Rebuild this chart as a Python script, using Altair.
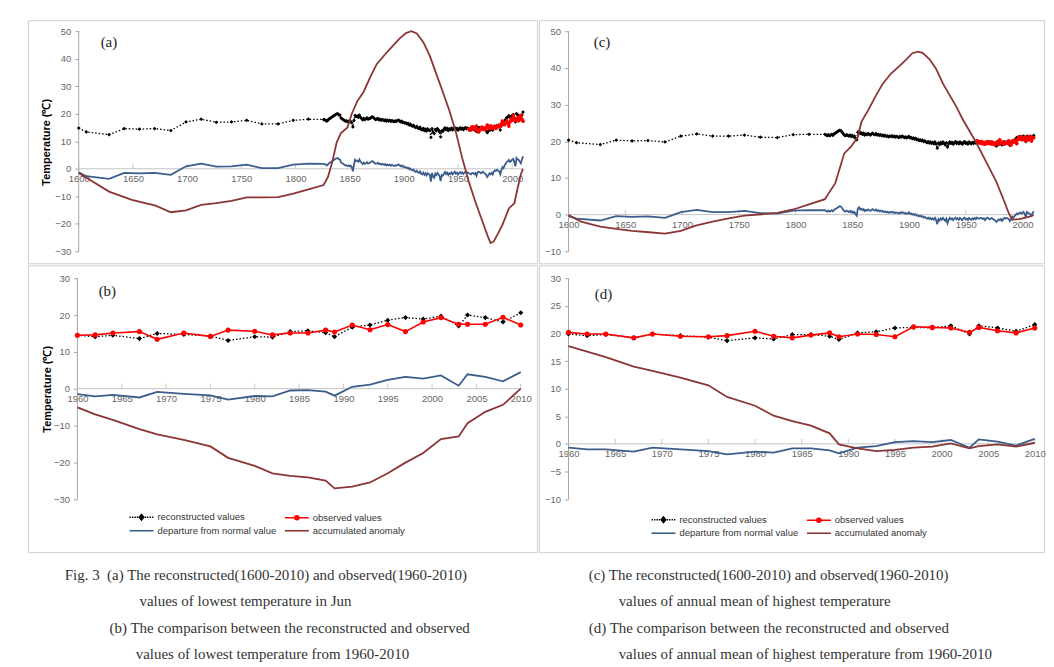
import altair as alt
import pandas as pd

# ---------------- data ----------------
SERIES = ["reconstructed values", "departure from normal value",
          "observed values", "accumulated anomaly"]
COLORS = ["#000000", "#3b5d8c", "#ff0000", "#8b3535"]

SPARSE_YEARS = [1600, 1607, 1628, 1642, 1656, 1670, 1685, 1699, 1713, 1727,
                1741, 1755, 1769, 1784, 1798, 1812]
DENSE_YEARS = list(range(1826, 2011))
OBS_YEARS = list(range(1960, 2011))

# panel (a)
A_RECON_SPARSE = [14.8, 13.4, 12.4, 14.6, 14.4, 14.6, 13.9, 17.0, 18.0, 16.9,
                  17.0, 17.6, 16.3, 16.3, 17.6, 18.0]
A_DEPART_SPARSE = [-1.3, -2.7, -3.7, -1.5, -1.7, -1.5, -2.2, 0.9, 1.9, 0.8,
                   0.9, 1.5, 0.2, 0.2, 1.5, 1.9]
A_RECON_DENSE = [
    17.9, 17.8, 17.6, 17.3,
    17.7, 18.1, 18.4, 18.6, 18.9, 19.2, 19.4, 19.7, 19.9, 20.0,
    19.6, 19.5, 18.5, 18.1, 17.9, 17.6, 17.3, 17.4, 17.1, 17.3,
    17.0, 17.2, 16.7, 15.2, 17.6, 19.4, 18.9, 19.1, 18.7, 19.5,
    18.7, 18.3, 17.8, 18.3, 17.9, 18.1, 18.5, 18.0, 18.2, 18.3,
    18.7, 18.9, 18.6, 18.2, 17.9, 18.0, 18.3, 17.8, 18.0, 17.6,
    17.9, 17.7, 17.5, 17.8, 17.3, 17.6, 17.4, 17.6, 17.2, 17.5,
    17.3, 17.1, 17.4, 17.2, 17.5, 17.7, 17.4, 17.0, 17.3, 16.8,
    16.9, 16.6, 16.7, 16.3, 16.5, 15.9, 16.2, 15.7, 15.5, 15.8,
    15.2, 15.0, 15.4, 14.8, 14.6, 15.1, 14.3, 14.1, 14.7, 13.9,
    14.4, 13.7, 14.5, 14.1, 13.9, 11.4, 14.6, 13.3, 12.8, 14.3,
    13.8, 14.6, 14.1, 13.4, 11.6, 13.8, 13.6, 14.3, 14.9, 14.2,
    14.7, 13.9, 14.5, 14.2, 14.8, 14.1, 14.6, 15.0, 14.3, 14.7,
    14.0, 14.5, 14.9, 14.4, 14.8, 14.2, 14.7, 15.0, 14.5, 14.8,
    14.5, 14.3, 14.1, 14.6, 14.5, 14.1, 14.5, 13.6, 14.8, 15.0,
    14.9, 14.5, 14.7, 15.0, 14.6, 14.3, 13.9, 13.1, 13.7, 14.4,
    14.1, 14.6, 14.0, 15.1, 15.5, 15.3, 15.7, 15.5, 15.2, 14.1,
    15.6, 16.7, 16.3, 17.3, 17.9, 18.6, 18.8, 19.3, 18.6, 18.9,
    19.4, 19.7, 18.5, 17.0, 20.0, 19.6, 19.3, 18.7, 18.1, 19.5,
    20.6]
A_DEPART_DENSE = [
    1.8, 1.7, 1.5, 1.2,
    1.6, 2.0, 2.3, 2.5, 2.8, 3.1, 3.3, 3.6, 3.8, 3.9,
    3.5, 3.4, 2.4, 2.0, 1.8, 1.5, 1.2, 1.3, 1.0, 1.2,
    0.9, 1.1, 0.6, -0.9, 1.5, 3.3, 2.8, 3.0, 2.6, 3.4,
    2.6, 2.2, 1.7, 2.2, 1.8, 2.0, 2.4, 1.9, 2.1, 2.2,
    2.6, 2.8, 2.5, 2.1, 1.8, 1.9, 2.2, 1.7, 1.9, 1.5,
    1.8, 1.6, 1.4, 1.7, 1.2, 1.5, 1.3, 1.5, 1.1, 1.4,
    1.2, 1.0, 1.3, 1.1, 1.4, 1.6, 1.3, 0.9, 1.2, 0.7,
    0.8, 0.5, 0.6, 0.2, 0.4, -0.2, 0.1, -0.4, -0.6, -0.3,
    -0.9, -1.1, -0.7, -1.3, -1.5, -1.0, -1.8, -2.0, -1.4, -2.2,
    -1.7, -2.4, -1.6, -2.0, -2.2, -4.7, -1.5, -2.8, -3.3, -1.8,
    -2.3, -1.5, -2.0, -2.7, -4.5, -2.3, -2.5, -1.8, -1.2, -1.9,
    -1.4, -2.2, -1.6, -1.9, -1.3, -2.0, -1.5, -1.1, -1.8, -1.4,
    -2.1, -1.6, -1.2, -1.7, -1.3, -1.9, -1.4, -1.1, -1.6, -1.3,
    -1.6, -1.8, -2.0, -1.5, -1.6, -2.0, -1.6, -2.5, -1.3, -1.1,
    -1.2, -1.6, -1.4, -1.1, -1.5, -1.8, -2.2, -3.0, -2.4, -1.7,
    -2.0, -1.5, -2.1, -1.0, -0.6, -0.8, -0.4, -0.6, -0.9, -2.0,
    -0.5, 0.6, 0.2, 1.2, 1.8, 2.5, 2.7, 3.2, 2.5, 2.8,
    3.3, 3.6, 2.4, 0.9, 3.9, 3.5, 3.2, 2.6, 2.0, 3.4,
    4.5]
A_OBS = [
    14.5, 14.0, 14.6, 15.2, 15.1, 14.3, 15.0, 15.5, 14.2, 13.4,
    14.0, 14.6, 15.1, 14.4, 14.8, 14.2, 15.0, 15.9, 15.2, 14.6,
    15.6, 15.0, 14.6, 15.4, 15.1, 14.7, 15.1, 15.6, 15.9, 15.4,
    16.2, 17.3, 16.4, 16.0, 16.8, 17.4, 16.5, 15.5, 17.0, 18.1,
    17.6, 19.3, 18.2, 17.5, 17.5, 18.4, 17.5, 18.8, 19.4, 18.0,
    17.3]
A_ACCUM_YEARS = [1600, 1628, 1649, 1671, 1685, 1699, 1713, 1727, 1741, 1755,
                 1769, 1784, 1798, 1812, 1826, 1830, 1834, 1838, 1842, 1848,
                 1852, 1857, 1863, 1869, 1875, 1883, 1889, 1896, 1902, 1907,
                 1912, 1918, 1924, 1930, 1936, 1942, 1948, 1954, 1960, 1966,
                 1972, 1977, 1980, 1983, 1987, 1991, 1997, 2002, 2005, 2008,
                 2010]
A_ACCUM = [-1.5, -8.3, -11.3, -13.4, -15.8, -15.1, -13.1, -12.5, -11.7, -10.4,
           -10.4, -10.3, -9.0, -7.5, -5.9, -3.0, 2.5, 9.5, 13.0, 15.0,
           20.0, 24.5, 28.0, 33.3, 38.0, 41.7, 44.3, 47.3, 49.3, 50.0,
           49.2, 46.0, 41.0, 34.5, 27.9, 21.2, 13.4, 3.7, -4.7, -12.0,
           -18.5, -24.0, -27.0, -26.4, -23.5, -20.4, -14.4, -12.5, -7.1, -2.0,
           0.0]

# panel (c)
C_RECON_SPARSE = [20.3, 19.6, 19.1, 20.3, 20.1, 20.2, 19.8, 21.4, 22.0, 21.4,
                  21.4, 21.7, 21.1, 21.0, 21.8, 21.9]
C_DEPART_SPARSE = [-0.4, -1.1, -1.6, -0.4, -0.6, -0.5, -0.9, 0.7, 1.3, 0.7,
                   0.7, 1.0, 0.4, 0.3, 1.1, 1.2]
C_RECON_DENSE = [
    21.9, 21.7, 21.5, 21.8,
    21.5, 21.7, 21.9, 21.6, 22.0, 22.2, 22.4, 22.6, 22.8, 23.0,
    22.9, 22.5, 22.1, 21.7, 21.5, 21.8, 21.6, 21.4, 21.7, 21.3,
    21.6, 21.2, 21.4, 20.8, 20.4, 22.4, 22.7, 22.1, 22.3, 21.9,
    22.2, 21.7, 22.0, 21.8, 22.1, 21.9, 21.7, 22.0, 22.2, 21.9,
    21.8, 22.1, 21.7, 21.9, 21.6, 21.8, 21.5, 21.7, 21.4, 21.6,
    21.3, 21.5, 21.2, 21.4, 21.3, 21.5, 21.2, 21.4, 21.1, 21.3,
    21.2, 21.0, 21.3, 21.1, 21.4, 21.2, 21.0, 21.2, 20.9, 21.1,
    21.3, 20.9, 21.0, 20.7, 20.9, 20.6, 20.8, 20.4, 20.5, 20.2,
    20.4, 20.1, 20.3, 19.9, 20.1, 19.8, 19.6, 19.9, 19.5, 19.8,
    19.4, 19.7, 19.3, 19.8, 19.2, 18.1, 19.5, 19.1, 19.7, 19.3,
    19.8, 19.4, 19.0, 19.6, 18.4, 19.3, 19.8, 19.4, 19.7, 19.2,
    19.6, 19.9, 19.4, 19.7, 19.3, 19.8, 19.5, 19.2, 19.7, 19.9,
    19.4, 19.6, 19.2, 19.8, 19.5, 19.3, 19.7, 19.4, 19.8, 19.5,
    19.9, 19.6, 19.6, 19.8, 19.8, 19.5, 19.7, 19.2, 19.6, 19.9,
    19.7, 19.4, 19.6, 19.8, 19.5, 19.3, 19.1, 18.7, 19.0, 19.4,
    19.2, 19.5, 19.0, 19.4, 19.8, 19.6, 19.8, 19.7, 19.5, 18.9,
    19.4, 20.1, 19.8, 20.3, 20.6, 21.0, 20.8, 21.1, 21.3, 21.0,
    21.2, 21.4, 20.9, 19.9, 21.4, 21.2, 21.0, 20.8, 20.4, 21.1,
    21.6]
C_DEPART_DENSE = [
    1.2, 1.0, 0.8, 1.1,
    0.8, 1.0, 1.2, 0.9, 1.3, 1.5, 1.7, 1.9, 2.1, 2.3,
    2.2, 1.8, 1.4, 1.0, 0.8, 1.1, 0.9, 0.7, 1.0, 0.6,
    0.9, 0.5, 0.7, 0.1, -0.3, 1.7, 2.0, 1.4, 1.6, 1.2,
    1.5, 1.0, 1.3, 1.1, 1.4, 1.2, 1.0, 1.3, 1.5, 1.2,
    1.1, 1.4, 1.0, 1.2, 0.9, 1.1, 0.8, 1.0, 0.7, 0.9,
    0.6, 0.8, 0.5, 0.7, 0.6, 0.8, 0.5, 0.7, 0.4, 0.6,
    0.5, 0.3, 0.6, 0.4, 0.7, 0.5, 0.3, 0.5, 0.2, 0.4,
    0.6, 0.2, 0.3, 0.0, 0.2, -0.1, 0.1, -0.3, -0.2, -0.5,
    -0.3, -0.6, -0.4, -0.8, -0.6, -0.9, -1.1, -0.8, -1.2, -0.9,
    -1.3, -1.0, -1.4, -0.9, -1.5, -2.6, -1.2, -1.6, -1.0, -1.4,
    -0.9, -1.3, -1.7, -1.1, -2.3, -1.4, -0.9, -1.3, -1.0, -1.5,
    -1.1, -0.8, -1.3, -1.0, -1.4, -0.9, -1.2, -1.5, -1.0, -0.8,
    -1.3, -1.1, -1.5, -0.9, -1.2, -1.4, -1.0, -1.3, -0.9, -1.2,
    -0.8, -1.1, -1.1, -0.9, -0.9, -1.2, -1.0, -1.5, -1.1, -0.8,
    -1.0, -1.3, -1.1, -0.9, -1.2, -1.4, -1.6, -2.0, -1.7, -1.3,
    -1.5, -1.2, -1.7, -1.3, -0.9, -1.1, -0.9, -1.0, -1.2, -1.8,
    -1.3, -0.6, -0.9, -0.4, -0.1, 0.3, 0.1, 0.4, 0.6, 0.3,
    0.5, 0.7, 0.2, -0.8, 0.7, 0.5, 0.3, 0.1, -0.3, 0.4,
    0.9]
C_OBS = [
    20.2, 19.6, 19.9, 19.5, 19.9, 19.3, 19.7, 19.2, 19.6, 19.9,
    19.4, 19.8, 19.5, 19.2, 19.7, 19.4, 19.0, 19.6, 19.9, 19.3,
    20.4, 19.7, 19.5, 19.8, 19.2, 19.5, 19.7, 19.4, 20.1, 19.4,
    19.0, 19.9, 20.2, 19.8, 20.3, 19.4, 20.5, 21.2, 20.6, 21.1,
    20.4, 21.0, 20.8, 20.2, 21.1, 20.4, 20.5, 21.3, 20.1, 20.8,
    21.0]
C_ACCUM_YEARS = [1600, 1611, 1628, 1642, 1656, 1671, 1685, 1699, 1712, 1727,
                 1741, 1755, 1770, 1784, 1798, 1812, 1826, 1830, 1835, 1839,
                 1843, 1849, 1855, 1858, 1864, 1871, 1877, 1884, 1892, 1898,
                 1903, 1908, 1912, 1918, 1924, 1930, 1936, 1942, 1947, 1953,
                 1959, 1965, 1971, 1977, 1983, 1988, 1991, 1997, 2003, 2007,
                 2010]
C_ACCUM = [-0.1, -1.9, -3.3, -3.9, -4.4, -4.8, -5.2, -4.4, -3.0, -1.9,
           -1.0, -0.3, 0.1, 0.5, 1.4, 2.8, 4.2, 6.2, 8.5, 12.6,
           16.7, 18.5, 21.2, 25.2, 28.4, 32.5, 35.7, 38.4, 40.6, 42.4,
           44.0, 44.4, 44.1, 42.4, 39.7, 35.7, 32.5, 29.3, 26.2, 23.0,
           19.8, 16.2, 12.6, 9.0, 4.4, 0.4, -1.4, -1.2, -0.8, -0.5,
           -0.1]

# panels (b) and (d)
BD_YEARS = [1960, 1962, 1964, 1967, 1969, 1972, 1975, 1977, 1980, 1982,
            1984, 1986, 1988, 1989, 1991, 1993, 1995, 1997, 1999, 2001,
            2003, 2004, 2006, 2008, 2010]
B_RECON = [14.5, 14.1, 14.5, 13.6, 15.0, 14.7, 14.3, 13.1, 14.1, 14.0,
           15.5, 15.7, 15.2, 14.1, 16.7, 17.3, 18.6, 19.3, 18.9, 19.7,
           17.0, 20.0, 19.3, 18.1, 20.6]
B_OBS = [14.5, 14.6, 15.1, 15.5, 13.4, 15.1, 14.2, 15.9, 15.6, 14.6,
         15.1, 15.1, 15.9, 15.4, 17.3, 16.0, 17.4, 15.5, 18.1, 19.3,
         17.5, 17.5, 17.5, 19.4, 17.3]
B_DEPART = [-1.5, -2.1, -1.7, -2.4, -0.9, -1.4, -1.8, -3.0, -2.0, -2.1,
            -0.5, -0.4, -0.8, -1.9, 0.5, 1.1, 2.4, 3.2, 2.7, 3.6,
            0.8, 3.9, 3.2, 2.0, 4.5]
B_ACCUM = [-5.1, -7.0, -8.5, -11.0, -12.4, -13.9, -15.7, -18.8, -21.0, -23.0,
           -23.7, -24.1, -25.0, -27.1, -26.6, -25.5, -23.0, -20.1, -17.5, -13.7,
           -13.0, -9.4, -6.3, -4.4, 0.0]
D_RECON = [19.9, 19.6, 19.8, 19.2, 19.9, 19.6, 19.3, 18.7, 19.2, 19.0,
           19.8, 19.8, 19.5, 18.9, 20.1, 20.3, 21.0, 21.1, 21.0, 21.4,
           19.9, 21.4, 21.0, 20.4, 21.6]
D_OBS = [20.2, 19.9, 19.9, 19.2, 19.9, 19.5, 19.4, 19.6, 20.4, 19.5,
         19.2, 19.7, 20.1, 19.4, 19.9, 19.8, 19.4, 21.2, 21.1, 21.0,
         20.2, 21.1, 20.5, 20.1, 21.0]
D_DEPART = [-0.7, -1.0, -1.0, -1.4, -0.7, -1.0, -1.3, -1.9, -1.4, -1.6,
            -0.8, -0.8, -1.2, -1.7, -0.7, -0.4, 0.3, 0.5, 0.3, 0.7,
            -0.7, 0.8, 0.4, -0.3, 0.9]
D_ACCUM = [17.7, 16.7, 15.7, 14.0, 13.2, 12.0, 10.6, 8.5, 6.9, 5.1,
           4.1, 3.3, 1.9, -0.1, -0.8, -1.3, -1.1, -0.7, -0.5, 0.1,
           -0.8, -0.4, -0.1, -0.5, 0.2]

TICKS_LONG = [1600, 1650, 1700, 1750, 1800, 1850, 1900, 1950, 2000]
TICKS_SHORT = [1960, 1965, 1970, 1975, 1980, 1985, 1990, 1995, 2000, 2005, 2010]

ZW = "\u200b"
NB = "\u00a0"
CAPTION_LEFT = [
    "Fig. 3" + NB * 2 + "(a) The reconstructed(1600-2010) and observed(1960-2010)",
    ZW + NB * 20 + "values of lowest temperature in Jun",
    ZW + NB * 12 + "(b) The comparison between the reconstructed and observed",
    ZW + NB * 19 + "values of lowest temperature from 1960-2010",
]
CAPTION_RIGHT = [
    "(c) The reconstructed(1600-2010) and observed(1960-2010)",
    ZW + NB * 8 + "values of annual mean of highest temperature",
    "(d) The comparison between the reconstructed and observed",
    ZW + NB * 8 + "values of annual mean of highest temperature from 1960-2010",
]

# ---------------- styles ----------------
SANS = "Liberation Sans"
SERIF = "Liberation Serif"
AXIS_GRAY = "#a6a6a6"
LABEL_GRAY = "#666666"

_dots = "".join(f"M{x},0h0.28" for x in [-2.4, -1.9, -1.4, -0.95, 0.67, 1.12, 1.62, 2.12])
_line = "M-2.4,0H2.4"
SHAPE_BY_SERIES = {
    "reconstructed values": _dots + "M0,-0.55L0.45,0L0,0.55L-0.45,0Z",
    "observed values": _line + "M-0.4,0A0.4,0.4,0,1,1,0.4,0A0.4,0.4,0,1,1,-0.4,0Z",
    "departure from normal value": _line,
    "accumulated anomaly": _line,
}
LEGEND_PATHS = [SHAPE_BY_SERIES[s] for s in SERIES]


def make_panel(recon, obs, dep, acc, xdom, ydom, xticks, yticks, x_first,
               x_last, y_lo, y_hi, x_off, y_off, w, h, letter, ldx, ldy,
               ytitle=None, mk_recon=16, mk_obs=16, legend_xy=None):
    xs = alt.Scale(domain=xdom, nice=False, zero=False)
    ys = alt.Scale(domain=ydom, nice=False, zero=False)
    xaxis = alt.Axis(values=xticks, format="d", grid=False, domain=False,
                     ticks=False, tickSize=0, labelPadding=5, offset=x_off,
                     labelFlush=False, labelOverlap=False, title=None,
                     labelFont=SANS, labelFontSize=9.5, labelColor=LABEL_GRAY)
    ykw = dict(values=yticks, format="d", grid=False, domain=False,
               ticks=True, tickSize=4, tickColor=AXIS_GRAY, labelPadding=4,
               offset=y_off, labelFlush=False, labelOverlap=False,
               labelFont=SANS, labelFontSize=9.5, labelColor=LABEL_GRAY)
    if ytitle:
        ykw.update(title=ytitle[0], titleX=ytitle[1], titleY=ytitle[2],
                   titleAngle=270, titleBaseline="middle", titleAlign="center",
                   titleFont=SANS, titleFontSize=11, titleFontWeight="bold",
                   titleColor="#000000")
    else:
        ykw.update(title=None)
    yaxis = alt.Axis(**ykw)
    X = alt.X("year:Q", scale=xs, axis=xaxis)
    Y = alt.Y("value:Q", scale=ys, axis=yaxis)

    ax_df = pd.DataFrame({"year": [x_first], "value": [y_lo], "value2": [y_hi]})
    zero_df = pd.DataFrame({"year": [x_first], "year2": [x_last], "value": [0]})
    tick_df = pd.DataFrame({"year": xticks, "value": [0] * len(xticks)})

    layers = [
        alt.Chart(ax_df).mark_rule(color=AXIS_GRAY, strokeWidth=1).encode(x=X, y=Y, y2="value2:Q"),
        alt.Chart(zero_df).mark_rule(color="#c4c4c4", strokeWidth=1).encode(x=X, x2="year2:Q", y=Y),
        alt.Chart(tick_df).mark_tick(orient="vertical", size=5, thickness=1,
                                     color="#b0b0b0", yOffset=-2.5).encode(x=X, y=Y),
        alt.Chart(recon).mark_line(color="#000000", strokeDash=[1.5, 2],
                                   strokeWidth=1.3).encode(x=X, y=Y),
        alt.Chart(recon).mark_point(shape="diamond", filled=True, size=mk_recon,
                                    color="#000000", opacity=1).encode(x=X, y=Y),
        alt.Chart(obs).mark_line(color="#ff0000", strokeWidth=1.6).encode(x=X, y=Y),
        alt.Chart(obs).mark_point(shape="circle", filled=True, size=mk_obs,
                                  color="#ff0000", opacity=1).encode(x=X, y=Y),
        alt.Chart(dep).mark_line(color="#3b5d8c", strokeWidth=1.8).encode(x=X, y=Y),
        alt.Chart(acc).mark_line(color="#8b3535", strokeWidth=1.8).encode(x=X, y=Y),
    ]
    if legend_xy is not None:
        leg = alt.Legend(title=None, orient="none", legendX=legend_xy[0],
                         legendY=legend_xy[1], columns=2, columnPadding=4,
                         rowPadding=1.5, symbolSize=100, symbolStrokeWidth=1.6,
                         symbolOpacity=1, labelOffset=10, padding=0,
                         labelFont=SANS, labelFontSize=9.5, labelColor="#333333")
        leg_df = pd.DataFrame({"series": SERIES})
        layers.append(
            alt.Chart(leg_df).transform_filter("false").mark_point(
                filled=True, opacity=1, size=100, strokeWidth=1.6).encode(
                color=alt.Color("series:N", scale=alt.Scale(domain=SERIES, range=COLORS), legend=leg),
                stroke=alt.Stroke("series:N", scale=alt.Scale(domain=SERIES, range=COLORS), legend=leg),
                shape=alt.Shape("series:N", scale=alt.Scale(domain=SERIES, range=LEGEND_PATHS), legend=leg),
            )
        )
    return alt.layer(*layers).properties(
        width=w, height=h,
        title=alt.TitleParams(text=letter, anchor="start", frame="group",
                              orient="top", offset=0, dx=ldx, dy=ldy,
                              baseline="middle", font=SERIF, fontSize=15,
                              fontWeight="normal", color="#222222"),
    )


def df(years, vals):
    return pd.DataFrame({"year": years, "value": vals})


WL, WR = 511, 507
HT, HB = 244, 288

pa = make_panel(df(SPARSE_YEARS + DENSE_YEARS, A_RECON_SPARSE + A_RECON_DENSE),
                df(OBS_YEARS, A_OBS),
                df(SPARSE_YEARS + DENSE_YEARS, A_DEPART_SPARSE + A_DEPART_DENSE),
                df(A_ACCUM_YEARS, A_ACCUM),
                [1553.12, 2022.87], [-34.34, 53.98], TICKS_LONG,
                list(range(-30, 51, 10)), 1600, 2010, -30, 50,
                -94.9, -51, WL, HT, "(a)", 73, 37,
                ytitle=("Temperature (\u2103)", -32.5, 122), mk_recon=14, mk_obs=14)

pc = make_panel(df(SPARSE_YEARS + DENSE_YEARS, C_RECON_SPARSE + C_RECON_DENSE),
                df(OBS_YEARS, C_OBS),
                df(SPARSE_YEARS + DENSE_YEARS, C_DEPART_SPARSE + C_DEPART_DENSE),
                df(C_ACCUM_YEARS, C_ACCUM),
                [1573.92, 2019.05], [-13.26, 52.99], TICKS_LONG,
                list(range(-10, 51, 10)), 1600, 2010, -10, 50,
                -48.8, -29.7, WR, HT, "(c)", 55, 37, mk_recon=14, mk_obs=14)

pb = make_panel(df(BD_YEARS, B_RECON), df(BD_YEARS, B_OBS),
                df(BD_YEARS, B_DEPART), df(BD_YEARS, B_ACCUM),
                [1954.42, 2011.83], [-44.43, 33.52], TICKS_SHORT,
                list(range(-30, 31, 10)), 1960, 2010, -30, 30,
                -164.15, -49.7, WL, HB, "(b)", 71, 41,
                ytitle=("Temperature (\u2103)", -30, 124), mk_recon=26, mk_obs=26,
                legend_xy=(108, 247))

pd_ = make_panel(df(BD_YEARS, D_RECON), df(BD_YEARS, D_OBS),
                 df(BD_YEARS, D_DEPART), df(BD_YEARS, D_ACCUM),
                 [1956.83, 2010.99], [-19.62, 32.35], TICKS_SHORT,
                 list(range(-10, 31, 5)), 1960, 2010, -10, 30,
                 -108.7, -29.7, WR, HB, "(d)", 56, 44, mk_recon=26, mk_obs=26,
                 legend_xy=(119, 249.5))

cap_df = pd.DataFrame({
    "text": CAPTION_LEFT + CAPTION_RIGHT,
    "col": [0] * 4 + [1] * 4,
    "line": [0, 1, 2, 3] * 2,
})
caption = alt.Chart(cap_df).mark_text(
    align="left", baseline="middle", font=SERIF, fontSize=15, color="#333333"
).encode(
    x=alt.X("col:Q", scale=alt.Scale(domain=[0, 1], range=[37, 563]), axis=None),
    y=alt.Y("line:Q", scale=alt.Scale(domain=[0, 3], range=[21, 100]), axis=None),
    text="text:N",
).properties(width=WL + WR, height=104, view=alt.ViewBackground(stroke="transparent"))

res = dict(color="independent", stroke="independent", shape="independent")
top = alt.hconcat(pa, pc, spacing=0)
bottom = alt.hconcat(pb, pd_, spacing=0).resolve_scale(**res).resolve_legend(**res)

chart = alt.vconcat(top, bottom, caption, spacing=0).resolve_scale(**res).resolve_legend(**res).properties(
    padding={"left": 19, "top": 10, "right": 0, "bottom": 0},
    background="white",
).configure_view(stroke="#d0d0d0", strokeWidth=1)

chart.save("out.html", embed_options={"renderer": "svg", "actions": False})
